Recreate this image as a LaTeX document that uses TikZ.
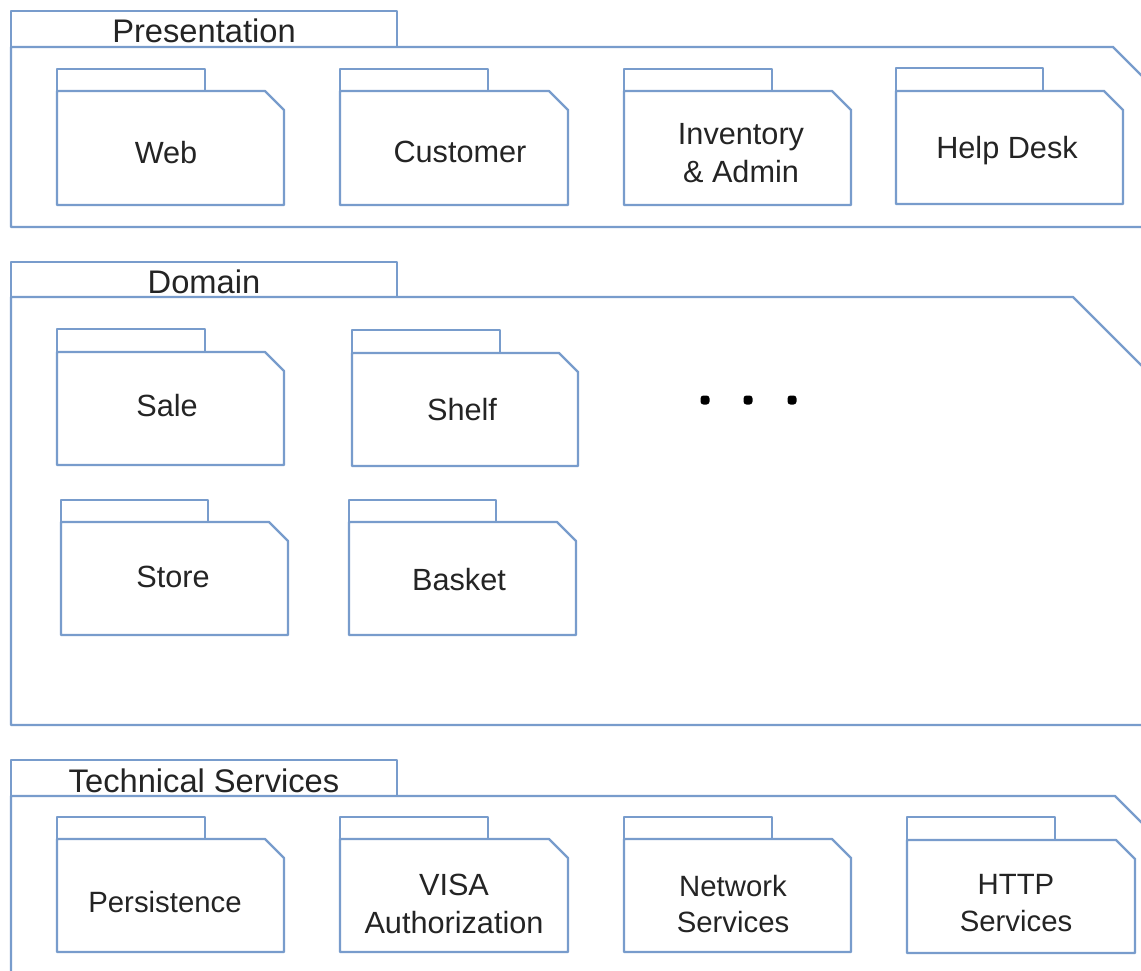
\documentclass[tikz,border=0pt]{standalone}
\usepackage{fontspec}
\setmainfont{Liberation Sans}
\definecolor{pkgline}{RGB}{120,156,204}
\definecolor{pkgtext}{RGB}{36,36,36}

% small package: #1 left, #2 tab top, #3 tab right, #4 body top, #5 right, #6 bottom
\newcommand\smallpkg[6]{%
  \draw[pkg] (#1,#4) rectangle (#3,#2);
  \draw[pkg] (#1,#4) -- ({#5-19},#4) -- (#5,{#4+19}) -- (#5,#6) -- (#1,#6) -- cycle;}

\begin{document}
\begin{tikzpicture}[x=0.75pt,y=-0.75pt,
  pkg/.style={draw=pkgline, line width=1.8pt, line join=round},
  title/.style={font=\fontsize{24.5}{29}\selectfont, text=pkgtext, inner sep=0pt},
  lbl/.style={font=\fontsize{23}{29}\selectfont, text=pkgtext, align=center, inner sep=0pt},
  tlbl/.style={font=\fontsize{22}{27.5}\selectfont, text=pkgtext, align=center, inner sep=0pt},
  dot/.style={fill=black, rounded corners=2.2pt}]

\fill[white] (0,0) rectangle (1141,970);
\path[use as bounding box] (0,0) rectangle (1141,970);

% layer packages (cut off at the right-hand edge)
\begin{scope}
  \clip (0,0) rectangle (1141,970);
  \draw[pkg] (11,47) rectangle (397,11);
  \draw[pkg] (11,47) -- (1113,47) -- (1200,134) -- (1200,227) -- (11,227) -- cycle;

  \draw[pkg] (11,297) rectangle (397,262);
  \draw[pkg] (11,297) -- (1073,297) -- (1200,424) -- (1200,725) -- (11,725) -- cycle;

  \draw[pkg] (11,796) rectangle (397,760);
  \draw[pkg] (11,796) -- (1115,796) -- (1200,881) -- (1200,1000) -- (11,1000) -- cycle;
\end{scope}

\node[title, anchor=base] (presentation) at (204,43) {Presentation};
\node[title, anchor=base] (domain) at (204,293) {Domain};
\node[title, anchor=base] (techservices) at (204,792) {Technical Services};

% presentation packages
\smallpkg{57}{69}{205}{91}{284}{205}
\smallpkg{340}{69}{488}{91}{568}{205}
\smallpkg{624}{69}{772}{91}{851}{205}
\smallpkg{896}{68}{1043}{91}{1123}{204}
\node[lbl, anchor=base] (web) at (166,163) {Web};
\node[lbl, anchor=base] (customer) at (460,162) {Customer};
\node[lbl] (inventory) at (741,153) {Inventory\\\& Admin};
\node[lbl, anchor=base] (helpdesk) at (1007,158) {Help Desk};

% domain packages
\smallpkg{57}{329}{205}{352}{284}{465}
\smallpkg{352}{330}{500}{353}{578}{466}
\smallpkg{61}{500}{208}{522}{288}{635}
\smallpkg{349}{500}{496}{522}{576}{635}
\node[lbl, anchor=base] (sale) at (167,416) {Sale};
\node[lbl, anchor=base] (shelf) at (462,420) {Shelf};
\node[lbl, anchor=base] (store) at (173,587) {Store};
\node[lbl, anchor=base] (basket) at (459,590) {Basket};
\foreach \x in {705,748,792} \path[dot] (\x-4.5,395.5) rectangle (\x+4.5,404.5);

% technical service packages
\smallpkg{57}{817}{205}{839}{284}{952}
\smallpkg{340}{817}{488}{839}{568}{952}
\smallpkg{624}{817}{772}{839}{851}{952}
\smallpkg{907}{817}{1055}{840}{1135}{953}
\node[tlbl, anchor=base] (persistence) at (165,912) {Persistence};
\node[lbl] (visa) at (454,904) {VISA\\Authorization};
\node[tlbl] (network) at (733,904) {Network\\Services};
\node[tlbl] (http) at (1016,903) {HTTP\\Services};
\end{tikzpicture}
\end{document}
